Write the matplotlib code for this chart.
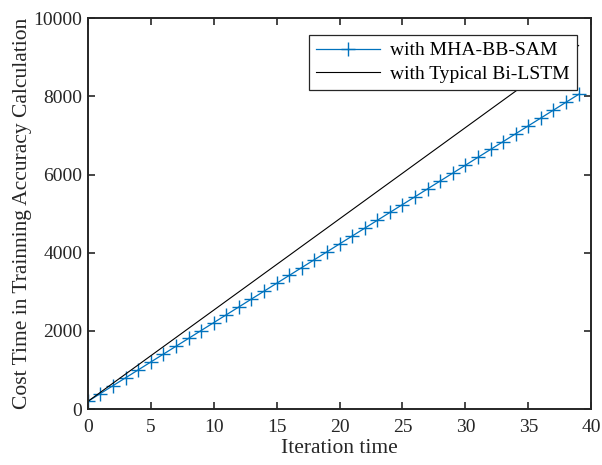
import matplotlib
matplotlib.use("Agg")
import matplotlib.pyplot as plt

iterations = list(range(40))
mha_bb_sam = [200, 401, 603, 804, 1005, 1207, 1408, 1609, 1810, 2012,
              2213, 2414, 2615, 2817, 3018, 3219, 3420, 3622, 3823, 4024,
              4226, 4427, 4628, 4829, 5031, 5232, 5433, 5635, 5836, 6037,
              6238, 6440, 6641, 6842, 7044, 7245, 7446, 7647, 7849, 8050]
typical_bilstm = [200, 433, 667, 900, 1133, 1367, 1600, 1833, 2067, 2300,
                  2533, 2767, 3000, 3233, 3467, 3700, 3933, 4167, 4400, 4633,
                  4867, 5100, 5333, 5567, 5800, 6033, 6267, 6500, 6733, 6967,
                  7200, 7433, 7667, 7900, 8133, 8367, 8600, 8833, 9067, 9300]
x_ticks = [0, 5, 10, 15, 20, 25, 30, 35, 40]
y_ticks = [0, 2000, 4000, 6000, 8000, 10000]

plt.rcParams['font.family'] = ['Liberation Serif', 'DejaVu Serif']
fig = plt.figure(figsize=(6.02, 4.65), dpi=100)
ax = fig.add_axes([0.146, 0.120, 0.836, 0.841])

ax.plot(iterations, mha_bb_sam, color='#0072BD', lw=0.9, marker='+',
        markersize=10, markeredgewidth=1.0, label='with MHA-BB-SAM')
ax.plot(iterations, typical_bilstm, color='black', lw=0.8,
        label='with Typical Bi-LSTM')

ax.set_xlim(0, 40)
ax.set_ylim(0, 10000)
ax.set_xticks(x_ticks)
ax.set_yticks(y_ticks)
ax.tick_params(direction='in', top=True, right=True, length=5, width=1.2,
               labelsize=14, colors='#262626')
ax.tick_params(axis='x', pad=7)
ax.tick_params(axis='y', pad=4)
for s in ax.spines.values():
    s.set_linewidth(1.4)
    s.set_color('#262626')

ax.set_xlabel('Iteration time', fontsize=15.5, color='#262626', labelpad=2)
ax.set_ylabel('Cost Time in Trainning Accuracy Calculation', fontsize=15.5,
              color='#262626', labelpad=1)

leg = ax.legend(loc='upper right', bbox_to_anchor=(0.971, 0.957), fontsize=14,
                fancybox=False, framealpha=1, edgecolor='#262626',
                handlelength=3.3, handletextpad=0.5, borderpad=0.35,
                labelspacing=0.3, borderaxespad=0)
leg.get_frame().set_linewidth(0.9)
leg.set_zorder(5)

fig.savefig('out.png', dpi=100)
